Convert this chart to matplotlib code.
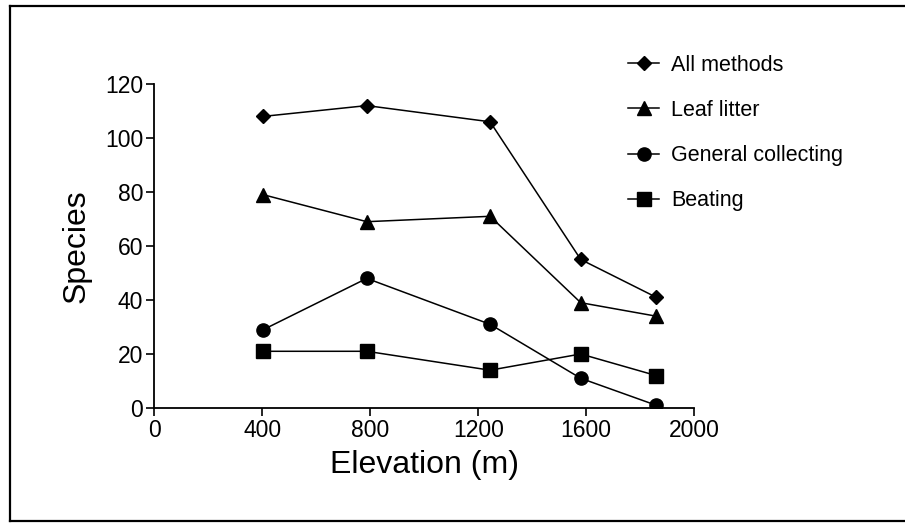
import matplotlib
matplotlib.use("Agg")
import matplotlib.pyplot as plt
from matplotlib.lines import Line2D

plt.rcParams["font.family"] = ["Liberation Sans", "DejaVu Sans"]

# elevation of each site (m)
elevation = [403, 787, 1244, 1580, 1860]

# species counts per collecting method
all_methods = [108, 112, 106, 55, 41]
leaf_litter = [79, 69, 71, 39, 34]
general_collecting = [29, 48, 31, 11, 1]
beating = [21, 21, 14, 20, 12]

series_labels = ["All methods", "Leaf litter", "General collecting", "Beating"]
x_ticks = [0, 400, 800, 1200, 1600, 2000]
y_ticks = [0, 20, 40, 60, 80, 100, 120]

fig = plt.figure(figsize=(9.05, 5.23), dpi=100)
ax = fig.add_axes([0.1707, 0.2199, 0.7669 - 0.1707, 0.8394 - 0.2199])

styles = [("D", 7.0), ("^", 9.5), ("o", 9.5), ("s", 9.5)]
for vals, lab, (m, ms) in zip([all_methods, leaf_litter, general_collecting, beating],
                               series_labels, styles):
    ax.plot(elevation, vals, color="black", lw=1.1, marker=m, ms=ms,
            markerfacecolor="black", markeredgecolor="black", label=lab)

ax.set_xlim(0, 2000)
ax.set_ylim(0, 120)
ax.set_xticks(x_ticks)
ax.set_yticks(y_ticks)
ax.tick_params(direction="out", length=6, width=1.2, labelsize=16.5, colors="black")
ax.tick_params(axis="y", pad=2)
ax.tick_params(axis="x", pad=2)
for side in ["top", "right"]:
    ax.spines[side].set_visible(False)
for side in ["left", "bottom"]:
    ax.spines[side].set_linewidth(1.3)

ax.set_xlabel("Elevation (m)", fontsize=23, labelpad=6)
ax.set_ylabel("Species", fontsize=23, labelpad=10)

ax.legend(loc="upper left", bbox_to_anchor=(0.694, 0.895), bbox_transform=fig.transFigure,
          frameon=False, fontsize=15.5, handlelength=1.45, handletextpad=0.55,
          labelspacing=1.12, numpoints=1, borderaxespad=0, borderpad=0)

# outer frame of the figure
fl, ft, fb = 9.5 / 905, 1 - 5.5 / 523, 1 - 521 / 523
fig.add_artist(Line2D([fl, fl], [fb, ft], transform=fig.transFigure, color="black", lw=1.6))
fig.add_artist(Line2D([fl, 1], [ft, ft], transform=fig.transFigure, color="black", lw=1.6))
fig.add_artist(Line2D([fl, 1], [fb, fb], transform=fig.transFigure, color="black", lw=1.6))

fig.savefig("out.png", dpi=100)
